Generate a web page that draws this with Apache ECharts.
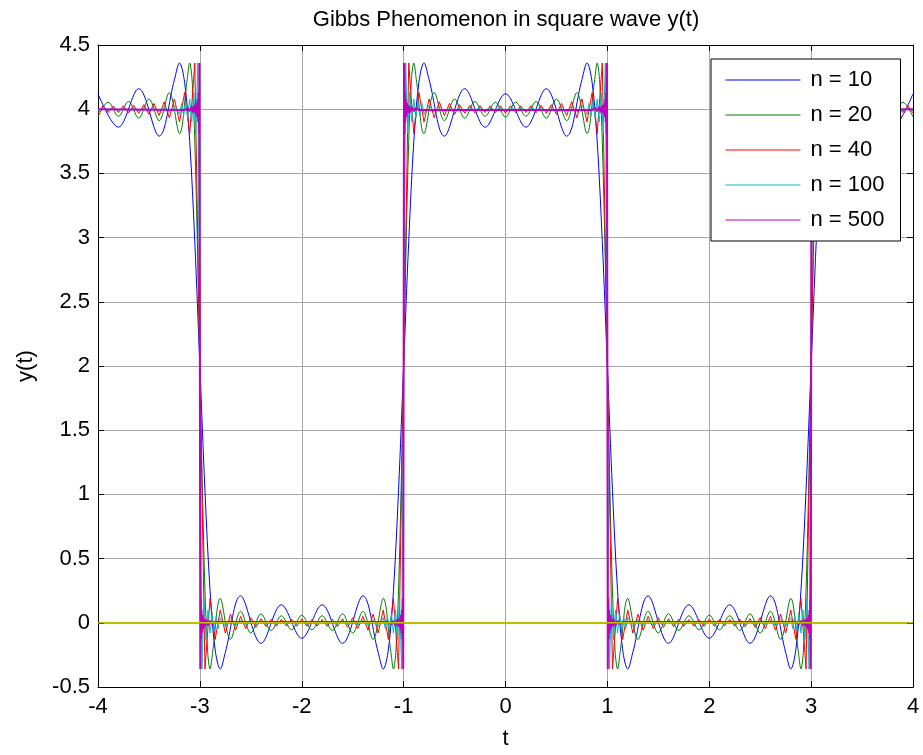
<!DOCTYPE html>
<html>
<head>
<meta charset="utf-8">
<title>Gibbs Phenomenon in square wave y(t)</title>
<script src="https://cdn.jsdelivr.net/npm/echarts@6.0.0/dist/echarts.min.js"></script>
<style>
  html, body { margin: 0; padding: 0; background: #fff; }
  #chart { width: 923px; height: 755px; }
</style>
</head>
<body>
<div id="chart"></div>
<script>
// values, [t, y(t)]
const seriesNames = ['n = 10', 'n = 20', 'n = 40', 'n = 100', 'n = 500']

const n10 = [
  [-4, 4.12], [-3.8, 3.86], [-3.6, 4.16], [-3.4, 3.79], [-3.25, 4.23], [-3.2, 4.36], [-3.15, 4.21], [-3.1, 3.75], [-3.05, 2.97],
  [-3, 2], [-2.95, 1.03], [-2.9, 0.25], [-2.85, -0.21], [-2.8, -0.36], [-2.75, -0.23], [-2.6, 0.21], [-2.4, -0.16], [-2.2, 0.14],
  [-2, -0.12], [-1.8, 0.14], [-1.6, -0.16], [-1.4, 0.21], [-1.25, -0.23], [-1.2, -0.36], [-1.15, -0.21], [-1.1, 0.25], [-1.05, 1.03],
  [-1, 2], [-0.95, 2.97], [-0.9, 3.75], [-0.85, 4.21], [-0.8, 4.36], [-0.75, 4.23], [-0.6, 3.79], [-0.4, 4.16], [-0.2, 3.86],
  [0, 4.12], [0.2, 3.86], [0.4, 4.16], [0.6, 3.79], [0.75, 4.23], [0.8, 4.36], [0.85, 4.21], [0.9, 3.75], [0.95, 2.97],
  [1, 2], [1.05, 1.03], [1.1, 0.25], [1.15, -0.21], [1.2, -0.36], [1.25, -0.23], [1.4, 0.21], [1.6, -0.16], [1.8, 0.14],
  [2, -0.12], [2.2, 0.14], [2.4, -0.16], [2.6, 0.21], [2.75, -0.23], [2.8, -0.36], [2.85, -0.21], [2.9, 0.25], [2.95, 1.03],
  [3, 2], [3.05, 2.97], [3.1, 3.75], [3.15, 4.21], [3.2, 4.36], [3.25, 4.23], [3.4, 3.79], [3.6, 4.16], [3.8, 3.86], [4, 4.12]
]

const n20 = [
  [-4, 3.94], [-3.9, 4.055], [-3.8, 3.945], [-3.7, 4.06], [-3.6, 3.93], [-3.5, 4.08], [-3.4, 3.91], [-3.3, 4.13], [-3.2, 3.81],
  [-3.125, 4.23], [-3.1, 4.36], [-3.075, 4.21], [-3.05, 3.75], [-3.025, 2.97], [-3, 2], [-2.975, 1.03], [-2.95, 0.25], [-2.925, -0.21],
  [-2.9, -0.36], [-2.875, -0.23], [-2.8, 0.19], [-2.7, -0.13], [-2.6, 0.09], [-2.5, -0.08], [-2.4, 0.07], [-2.3, -0.06], [-2.2, 0.055],
  [-2.1, -0.055], [-2, 0.06], [-1.9, -0.055], [-1.8, 0.055], [-1.7, -0.06], [-1.6, 0.07], [-1.5, -0.08], [-1.4, 0.09], [-1.3, -0.13],
  [-1.2, 0.19], [-1.125, -0.23], [-1.1, -0.36], [-1.075, -0.21], [-1.05, 0.25], [-1.025, 1.03], [-1, 2], [-0.975, 2.97], [-0.95, 3.75],
  [-0.925, 4.21], [-0.9, 4.36], [-0.875, 4.23], [-0.8, 3.81], [-0.7, 4.13], [-0.6, 3.91], [-0.5, 4.08], [-0.4, 3.93], [-0.3, 4.06],
  [-0.2, 3.945], [-0.1, 4.055], [0, 3.94], [0.1, 4.055], [0.2, 3.945], [0.3, 4.06], [0.4, 3.93], [0.5, 4.08], [0.6, 3.91],
  [0.7, 4.13], [0.8, 3.81], [0.875, 4.23], [0.9, 4.36], [0.925, 4.21], [0.95, 3.75], [0.975, 2.97], [1, 2], [1.025, 1.03],
  [1.05, 0.25], [1.075, -0.21], [1.1, -0.36], [1.125, -0.23], [1.2, 0.19], [1.3, -0.13], [1.4, 0.09], [1.5, -0.08], [1.6, 0.07],
  [1.7, -0.06], [1.8, 0.055], [1.9, -0.055], [2, 0.06], [2.1, -0.055], [2.2, 0.055], [2.3, -0.06], [2.4, 0.07], [2.5, -0.08],
  [2.6, 0.09], [2.7, -0.13], [2.8, 0.19], [2.875, -0.23], [2.9, -0.36], [2.925, -0.21], [2.95, 0.25], [2.975, 1.03], [3, 2],
  [3.025, 2.97], [3.05, 3.75], [3.075, 4.21], [3.1, 4.36], [3.125, 4.23], [3.2, 3.81], [3.3, 4.13], [3.4, 3.91], [3.5, 4.08],
  [3.6, 3.93], [3.7, 4.06], [3.8, 3.945], [3.9, 4.055], [4, 3.94]
]

const n40 = [
  [-4, 3.97], [-3.95, 4.027], [-3.9, 3.974], [-3.85, 4.026], [-3.8, 3.974], [-3.75, 4.027], [-3.7, 3.972], [-3.65, 4.03],
  [-3.6, 3.968], [-3.55, 4.035], [-3.5, 3.96], [-3.45, 4.045], [-3.4, 3.95], [-3.35, 4.058], [-3.3, 3.933], [-3.25, 4.08],
  [-3.2, 3.9], [-3.15, 4.13], [-3.1, 3.81], [-3.05, 4.36], [-3, 2],
  [-2.95, -0.36], [-2.9, 0.19], [-2.85, -0.13], [-2.8, 0.1], [-2.75, -0.08], [-2.7, 0.067], [-2.65, -0.058], [-2.6, 0.05],
  [-2.55, -0.045], [-2.5, 0.04], [-2.45, -0.035], [-2.4, 0.032], [-2.35, -0.03], [-2.3, 0.028], [-2.25, -0.027], [-2.2, 0.026],
  [-2.15, -0.026], [-2.1, 0.026], [-2.05, -0.027], [-2, 0.03], [-1.95, -0.027], [-1.9, 0.026], [-1.85, -0.026], [-1.8, 0.026],
  [-1.75, -0.027], [-1.7, 0.028], [-1.65, -0.03], [-1.6, 0.032], [-1.55, -0.035], [-1.5, 0.04], [-1.45, -0.045], [-1.4, 0.05],
  [-1.35, -0.058], [-1.3, 0.067], [-1.25, -0.08], [-1.2, 0.1], [-1.15, -0.13], [-1.1, 0.19], [-1.05, -0.36], [-1, 2],
  [-0.95, 4.36], [-0.9, 3.81], [-0.85, 4.13], [-0.8, 3.9], [-0.75, 4.08], [-0.7, 3.933], [-0.65, 4.058], [-0.6, 3.95],
  [-0.55, 4.045], [-0.5, 3.96], [-0.45, 4.035], [-0.4, 3.968], [-0.35, 4.03], [-0.3, 3.972], [-0.25, 4.027], [-0.2, 3.974],
  [-0.15, 4.026], [-0.1, 3.974], [-0.05, 4.027], [0, 3.97], [0.05, 4.027], [0.1, 3.974], [0.15, 4.026], [0.2, 3.974],
  [0.25, 4.027], [0.3, 3.972], [0.35, 4.03], [0.4, 3.968], [0.45, 4.035], [0.5, 3.96], [0.55, 4.045], [0.6, 3.95],
  [0.65, 4.058], [0.7, 3.933], [0.75, 4.08], [0.8, 3.9], [0.85, 4.13], [0.9, 3.81], [0.95, 4.36], [1, 2],
  [1.05, -0.36], [1.1, 0.19], [1.15, -0.13], [1.2, 0.1], [1.25, -0.08], [1.3, 0.067], [1.35, -0.058], [1.4, 0.05],
  [1.45, -0.045], [1.5, 0.04], [1.55, -0.035], [1.6, 0.032], [1.65, -0.03], [1.7, 0.028], [1.75, -0.027], [1.8, 0.026],
  [1.85, -0.026], [1.9, 0.026], [1.95, -0.027], [2, 0.03], [2.05, -0.027], [2.1, 0.026], [2.15, -0.026], [2.2, 0.026],
  [2.25, -0.027], [2.3, 0.028], [2.35, -0.03], [2.4, 0.032], [2.45, -0.035], [2.5, 0.04], [2.55, -0.045], [2.6, 0.05],
  [2.65, -0.058], [2.7, 0.067], [2.75, -0.08], [2.8, 0.1], [2.85, -0.13], [2.9, 0.19], [2.95, -0.36], [3, 2],
  [3.05, 4.36], [3.1, 3.81], [3.15, 4.13], [3.2, 3.9], [3.25, 4.08], [3.3, 3.933], [3.35, 4.058], [3.4, 3.95],
  [3.45, 4.045], [3.5, 3.96], [3.55, 4.035], [3.6, 3.968], [3.65, 4.03], [3.7, 3.972], [3.75, 4.027], [3.8, 3.974],
  [3.85, 4.026], [3.9, 3.974], [3.95, 4.027], [4, 3.97]
]

const n100 = [
  [-4, 3.987], [-3.95, 4.013], [-3.9, 3.987], [-3.85, 4.013], [-3.8, 3.987], [-3.75, 4.014], [-3.7, 3.986], [-3.65, 4.015],
  [-3.6, 3.985], [-3.55, 4.016], [-3.5, 3.983], [-3.45, 4.018], [-3.4, 3.98], [-3.35, 4.022], [-3.3, 3.975], [-3.25, 4.03],
  [-3.2, 3.96], [-3.18, 4.045], [-3.16, 3.95], [-3.14, 4.058], [-3.12, 3.933], [-3.1, 4.08], [-3.08, 3.9], [-3.06, 4.13],
  [-3.04, 3.81], [-3.02, 4.36], [-3, 2],
  [-2.98, -0.36], [-2.96, 0.19], [-2.94, -0.13], [-2.92, 0.1], [-2.9, -0.08], [-2.88, 0.067], [-2.86, -0.058], [-2.84, 0.05],
  [-2.82, -0.045], [-2.8, 0.04], [-2.75, -0.03], [-2.7, 0.025], [-2.65, -0.022], [-2.6, 0.02], [-2.55, -0.018], [-2.5, 0.017],
  [-2.45, -0.016], [-2.4, 0.015], [-2.35, -0.015], [-2.3, 0.014], [-2.25, -0.014], [-2.2, 0.013], [-2.15, -0.013], [-2.1, 0.013],
  [-2.05, -0.013], [-2, 0.013], [-1.95, -0.013], [-1.9, 0.013], [-1.85, -0.013], [-1.8, 0.013], [-1.75, -0.014], [-1.7, 0.014],
  [-1.65, -0.015], [-1.6, 0.015], [-1.55, -0.016], [-1.5, 0.017], [-1.45, -0.018], [-1.4, 0.02], [-1.35, -0.022], [-1.3, 0.025],
  [-1.25, -0.03], [-1.2, 0.04], [-1.18, -0.045], [-1.16, 0.05], [-1.14, -0.058], [-1.12, 0.067], [-1.1, -0.08], [-1.08, 0.1],
  [-1.06, -0.13], [-1.04, 0.19], [-1.02, -0.36], [-1, 2],
  [-0.98, 4.36], [-0.96, 3.81], [-0.94, 4.13], [-0.92, 3.9], [-0.9, 4.08], [-0.88, 3.933], [-0.86, 4.058], [-0.84, 3.95],
  [-0.82, 4.045], [-0.8, 3.96], [-0.75, 4.03], [-0.7, 3.975], [-0.65, 4.022], [-0.6, 3.98], [-0.55, 4.018], [-0.5, 3.983],
  [-0.45, 4.016], [-0.4, 3.985], [-0.35, 4.015], [-0.3, 3.986], [-0.25, 4.014], [-0.2, 3.987], [-0.15, 4.013], [-0.1, 3.987],
  [-0.05, 4.013], [0, 3.987], [0.05, 4.013], [0.1, 3.987], [0.15, 4.013], [0.2, 3.987], [0.25, 4.014], [0.3, 3.986],
  [0.35, 4.015], [0.4, 3.985], [0.45, 4.016], [0.5, 3.983], [0.55, 4.018], [0.6, 3.98], [0.65, 4.022], [0.7, 3.975],
  [0.75, 4.03], [0.8, 3.96], [0.82, 4.045], [0.84, 3.95], [0.86, 4.058], [0.88, 3.933], [0.9, 4.08], [0.92, 3.9],
  [0.94, 4.13], [0.96, 3.81], [0.98, 4.36], [1, 2],
  [1.02, -0.36], [1.04, 0.19], [1.06, -0.13], [1.08, 0.1], [1.1, -0.08], [1.12, 0.067], [1.14, -0.058], [1.16, 0.05],
  [1.18, -0.045], [1.2, 0.04], [1.25, -0.03], [1.3, 0.025], [1.35, -0.022], [1.4, 0.02], [1.45, -0.018], [1.5, 0.017],
  [1.55, -0.016], [1.6, 0.015], [1.65, -0.015], [1.7, 0.014], [1.75, -0.014], [1.8, 0.013], [1.85, -0.013], [1.9, 0.013],
  [1.95, -0.013], [2, 0.013], [2.05, -0.013], [2.1, 0.013], [2.15, -0.013], [2.2, 0.013], [2.25, -0.014], [2.3, 0.014],
  [2.35, -0.015], [2.4, 0.015], [2.45, -0.016], [2.5, 0.017], [2.55, -0.018], [2.6, 0.02], [2.65, -0.022], [2.7, 0.025],
  [2.75, -0.03], [2.8, 0.04], [2.82, -0.045], [2.84, 0.05], [2.86, -0.058], [2.88, 0.067], [2.9, -0.08], [2.92, 0.1],
  [2.94, -0.13], [2.96, 0.19], [2.98, -0.36], [3, 2],
  [3.02, 4.36], [3.04, 3.81], [3.06, 4.13], [3.08, 3.9], [3.1, 4.08], [3.12, 3.933], [3.14, 4.058], [3.16, 3.95],
  [3.18, 4.045], [3.2, 3.96], [3.25, 4.03], [3.3, 3.975], [3.35, 4.022], [3.4, 3.98], [3.45, 4.018], [3.5, 3.983],
  [3.55, 4.016], [3.6, 3.985], [3.65, 4.015], [3.7, 3.986], [3.75, 4.014], [3.8, 3.987], [3.85, 4.013], [3.9, 3.987],
  [3.95, 4.013], [4, 3.987]
]

const n500 = [
  [-4, 4], [-3.15, 3.993], [-3.12, 4.01], [-3.1, 3.985], [-3.08, 4.02], [-3.065, 3.975], [-3.05, 4.03], [-3.04, 3.965],
  [-3.03, 4.05], [-3.025, 3.94], [-3.02, 4.08], [-3.016, 3.9], [-3.012, 4.13], [-3.008, 3.81], [-3.004, 4.36], [-3, 2],
  [-2.996, -0.36], [-2.992, 0.19], [-2.988, -0.13], [-2.984, 0.1], [-2.98, -0.08], [-2.975, 0.06], [-2.97, -0.05],
  [-2.96, 0.035], [-2.95, -0.03], [-2.935, 0.025], [-2.92, -0.02], [-2.9, 0.015], [-2.88, -0.01], [-2.85, 0.007],
  [-1.15, 0.007], [-1.12, -0.01], [-1.1, 0.015], [-1.08, -0.02], [-1.065, 0.025], [-1.05, -0.03], [-1.04, 0.035],
  [-1.03, -0.05], [-1.025, 0.06], [-1.02, -0.08], [-1.016, 0.1], [-1.012, -0.13], [-1.008, 0.19], [-1.004, -0.36], [-1, 2],
  [-0.996, 4.36], [-0.992, 3.81], [-0.988, 4.13], [-0.984, 3.9], [-0.98, 4.08], [-0.975, 3.94], [-0.97, 4.05], [-0.96, 3.965],
  [-0.95, 4.03], [-0.935, 3.975], [-0.92, 4.02], [-0.9, 3.985], [-0.88, 4.01], [-0.85, 3.993],
  [0.85, 3.993], [0.88, 4.01], [0.9, 3.985], [0.92, 4.02], [0.935, 3.975], [0.95, 4.03], [0.96, 3.965], [0.97, 4.05],
  [0.975, 3.94], [0.98, 4.08], [0.984, 3.9], [0.988, 4.13], [0.992, 3.81], [0.996, 4.36], [1, 2],
  [1.004, -0.36], [1.008, 0.19], [1.012, -0.13], [1.016, 0.1], [1.02, -0.08], [1.025, 0.06], [1.03, -0.05], [1.04, 0.035],
  [1.05, -0.03], [1.065, 0.025], [1.08, -0.02], [1.1, 0.015], [1.12, -0.01], [1.15, 0.007],
  [2.85, 0.007], [2.88, -0.01], [2.9, 0.015], [2.92, -0.02], [2.935, 0.025], [2.95, -0.03], [2.96, 0.035], [2.97, -0.05],
  [2.975, 0.06], [2.98, -0.08], [2.984, 0.1], [2.988, -0.13], [2.992, 0.19], [2.996, -0.36], [3, 2],
  [3.004, 4.36], [3.008, 3.81], [3.012, 4.13], [3.016, 3.9], [3.02, 4.08], [3.025, 3.94], [3.03, 4.05], [3.04, 3.965],
  [3.05, 4.03], [3.065, 3.975], [3.08, 4.02], [3.1, 3.985], [3.12, 4.01], [3.15, 3.993], [4, 4]
]

const zeroLine = [[-4, 0], [4, 0]]

const chart = echarts.init(document.getElementById('chart'))

const font = 'Liberation Sans, Arial, Helvetica, sans-serif'
const curves = [n10, n20, n40, n100, n500]
const colors = ['#0000ff', '#008000', '#ff0000', '#00bfbf', '#bf00bf']
const widths = [1, 1, 1, 1, 2]
const smooths = [0.35, 0.35, false, false, false]

const boxAxis = {
  type: 'value',
  axisLine: { show: true, onZero: false, lineStyle: { color: '#000', width: 1 } },
  axisTick: { show: true, inside: true, length: 6, lineStyle: { color: '#000' } },
  axisLabel: { show: false },
  splitLine: { show: false }
}

const option = {
  animation: false,
  backgroundColor: '#fff',
  textStyle: { fontFamily: font },
  title: {
    text: 'Gibbs Phenomenon in square wave y(t)',
    left: 506,
    top: 9,
    padding: 0,
    textAlign: 'center',
    textStyle: { fontSize: 22, fontWeight: 'normal', color: '#000', fontFamily: font }
  },
  grid: { left: 98, right: 10, top: 45, bottom: 68, containLabel: false, outerBoundsMode: 'none' },
  legend: {
    data: seriesNames,
    orient: 'vertical',
    left: 711,
    top: 59,
    padding: [10, 16, 10, 14],
    itemWidth: 75,
    itemHeight: 20,
    itemGap: 13,
    backgroundColor: '#fff',
    borderColor: '#000',
    borderWidth: 1,
    borderRadius: 0,
    selectedMode: false,
    lineStyle: { width: 1 },
    itemStyle: { opacity: 0 },
    textStyle: { fontSize: 22, color: '#000', fontFamily: font, padding: [0, 0, 0, 5] }
  },
  xAxis: [
    {
      type: 'value',
      min: -4,
      max: 4,
      interval: 1,
      position: 'bottom',
      name: 't',
      nameLocation: 'middle',
      nameGap: 41,
      nameTextStyle: { fontSize: 22, color: '#000', fontFamily: font },
      axisLine: { show: true, onZero: false, lineStyle: { color: '#000', width: 1 } },
      axisTick: { show: true, inside: true, length: 6, lineStyle: { color: '#000' } },
      axisLabel: { fontSize: 22, color: '#000', margin: 9, showMinLabel: true, showMaxLabel: true, fontFamily: font },
      splitLine: { show: true, lineStyle: { color: '#a6a6a6', width: 1 } }
    },
    Object.assign({}, boxAxis, { min: -4, max: 4, interval: 1, position: 'top' })
  ],
  yAxis: [
    {
      type: 'value',
      min: -0.5,
      max: 4.5,
      interval: 0.5,
      position: 'left',
      name: 'y(t)',
      nameLocation: 'middle',
      nameGap: 61,
      nameTextStyle: { fontSize: 22, color: '#000', fontFamily: font },
      axisLine: { show: true, onZero: false, lineStyle: { color: '#000', width: 1 } },
      axisTick: { show: true, inside: true, length: 6, lineStyle: { color: '#000' } },
      axisLabel: { fontSize: 22, color: '#000', margin: 8, showMinLabel: true, showMaxLabel: true, fontFamily: font },
      splitLine: { show: true, lineStyle: { color: '#a6a6a6', width: 1 } }
    },
    Object.assign({}, boxAxis, { min: -0.5, max: 4.5, interval: 0.5, position: 'right' })
  ],
  series: curves.map((data, i) => ({
    name: seriesNames[i],
    type: 'line',
    data: data,
    symbol: 'none',
    showSymbol: false,
    smooth: smooths[i],
    clip: true,
    silent: true,
    lineStyle: { color: colors[i], width: widths[i] },
    itemStyle: { color: colors[i] },
    emphasis: { disabled: true }
  })).concat([{
    name: 'zero',
    type: 'line',
    data: zeroLine,
    symbol: 'none',
    silent: true,
    lineStyle: { color: '#bfbf00', width: 1.5 },
    itemStyle: { color: '#bfbf00' },
    emphasis: { disabled: true }
  }])
}

chart.setOption(option)
</script>
</body>
</html>
